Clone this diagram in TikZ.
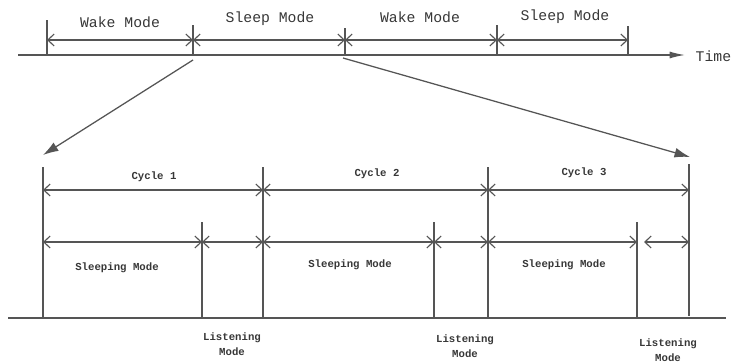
\documentclass[tikz,border=0pt]{standalone}
\usepackage{fontspec}
\setmonofont{Liberation Mono}
\usepackage{tikz}
\usetikzlibrary{arrows.meta,positioning}
\definecolor{lngray}{RGB}{85,85,85}
\definecolor{txgray}{RGB}{55,55,55}
\tikzstyle{tick} = [lngray, line width=1pt]
\tikzstyle{span} = [lngray, line width=0.8pt, {Straight Barb[length=4.5pt,width=8.5pt]}-{Straight Barb[length=4.5pt,width=8.5pt]}]
\tikzstyle{axisarrow} = [lngray, line width=1pt, -{Latex[length=11pt,width=5pt]}]
\tikzstyle{zoomarrow} = [lngray, line width=0.9pt, -{Latex[length=11pt,width=7pt]}]
\tikzstyle{toplabel} = [font=\ttfamily\fontsize{10.5}{12}\selectfont, text=txgray, inner sep=1pt]
\tikzstyle{botlabel} = [font=\ttfamily\bfseries\fontsize{7.6}{11}\selectfont, text=txgray, align=center, inner sep=1pt]

\begin{document}
\begin{tikzpicture}[x=0.025cm,y=-0.025cm]
\useasboundingbox (0,0) rectangle (735,363);

% Time axis
\coordinate (ta0) at (18,55);
\coordinate (ta1) at (685,55);
\draw[axisarrow] (ta0) -- (ta1);
\node[toplabel, anchor=west] (time) at (694,56) {Time};

% Mode boundaries on the time axis
\foreach \n/\x/\y in {t0/47/20, t1/193/25, t2/345/28, t3/497/25, t4/628/26} {
  \coordinate (\n) at (\x,\y);
  \coordinate (\n b) at (\x,55);
  \coordinate (\n s) at (\x,40);
  \draw[tick] (\n) -- (\n b);
}
\draw[span] (t0s) -- (t1s);
\draw[span] (t1s) -- (t2s);
\draw[span] (t2s) -- (t3s);
\draw[span] (t3s) -- (t4s);

\node[toplabel] (wake1) at (120,22) {Wake Mode};
\node[toplabel] (sleep1) at (270,19) {Sleep Mode};
\node[toplabel] (wake2) at (420,17) {Wake Mode};
\node[toplabel] (sleep2) at (565,17) {Sleep Mode};

% Zoom into one sleep mode
\coordinate (z0) at (193,60);
\coordinate (z1) at (43,155);
\coordinate (z2) at (343,58);
\coordinate (z3) at (690,157);
\draw[zoomarrow] (z0) -- (z1);
\draw[zoomarrow] (z2) -- (z3);

% Lower time line
\coordinate (bl0) at (8,318);
\coordinate (bl1) at (726,318);
\draw[tick] (bl0) -- (bl1);

% Cycle boundaries
\foreach \n/\x/\y/\e in {c0/43/167/318, c1/263/167/318, c2/488/167/318, c3/689/164/316} {
  \coordinate (\n) at (\x,\y);
  \coordinate (\n b) at (\x,\e);
  \coordinate (\n s) at (\x,190);
  \coordinate (\n m) at (\x,242);
  \draw[tick] (\n) -- (\n b);
}
% Listening starts
\foreach \n/\x in {l1/202, l2/434, l3/637} {
  \coordinate (\n) at (\x,222);
  \coordinate (\n b) at (\x,318);
  \coordinate (\n m) at (\x,242);
  \draw[tick] (\n) -- (\n b);
}

\draw[span] (c0s) -- (c1s);
\draw[span] (c1s) -- (c2s);
\draw[span] (c2s) -- (c3s);

\draw[span] (c0m) -- (l1m);
\draw[span] (l1m) -- (c1m);
\draw[span] (c1m) -- (l2m);
\draw[span] (l2m) -- (c2m);
\draw[span] (c2m) -- (l3m);
\draw[span] ([xshift=5pt]l3m) -- (c3m);

% Labels
\node[botlabel] (cyc1) at (154,177) {Cycle 1};
\node[botlabel] (cyc2) at (377,174) {Cycle 2};
\node[botlabel] (cyc3) at (584,173) {Cycle 3};

\node[botlabel] (slp1) at (117,268) {Sleeping Mode};
\node[botlabel] (slp2) at (350,265) {Sleeping Mode};
\node[botlabel] (slp3) at (564,265) {Sleeping Mode};

\node[botlabel] (lst1) at (232,344) {Listening\\Mode};
\node[botlabel] (lst2) at (465,346) {Listening\\Mode};
\node[botlabel] (lst3) at (668,350) {Listening\\Mode};
\end{tikzpicture}
\end{document}
